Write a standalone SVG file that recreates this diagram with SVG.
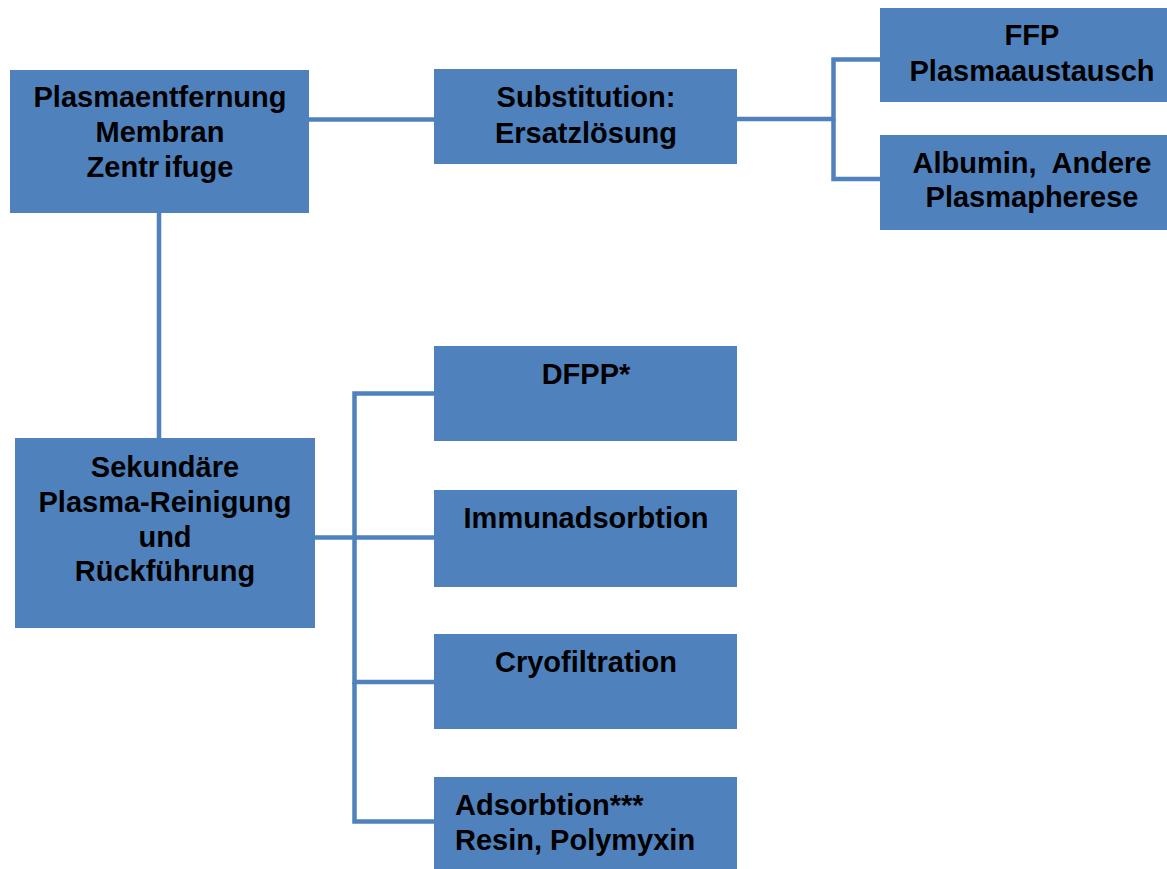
<svg xmlns="http://www.w3.org/2000/svg" width="1167" height="869" viewBox="0 0 1167 869">
  <style>
    .box { fill: #4F81BD; }
    .lbl { font-family: "Liberation Sans", Arial, sans-serif; font-weight: bold; font-size: 29px; fill: #000; text-anchor: middle; white-space: pre; }
    .left { text-anchor: start; }
    .conn { fill: none; stroke: #4F81BD; stroke-width: 4.5; stroke-linejoin: miter; }
  </style>
  <rect width="1167" height="869" fill="#FFFFFF"/>

  <!-- connectors -->
  <g id="connectors">
    <path class="conn" d="M309,119.5 H434"/>
    <path class="conn" d="M737,119 H833.5 V59.5 H880"/>
    <path class="conn" d="M833.5,119 V179 H880"/>
    <path class="conn" d="M159,213 V438"/>
    <path class="conn" d="M315,537.5 H354.5 V393.5 H434"/>
    <path class="conn" d="M354.5,537.5 H434"/>
    <path class="conn" d="M354.5,537.5 V682 H434"/>
    <path class="conn" d="M354.5,682 V821.5 H434"/>
  </g>

  <!-- primary separation -->
  <g id="plasmaentfernung">
    <rect class="box" x="10" y="70" width="299" height="143"/>
    <text class="lbl" x="160" y="107">Plasmaentfernung</text>
    <text class="lbl" x="160" y="142">Membran</text>
    <text class="lbl" x="160" y="177">Zentr<tspan dx="5">ifuge</tspan></text>
  </g>

  <g id="substitution">
    <rect class="box" x="434" y="69" width="303" height="95"/>
    <text class="lbl" x="586" y="107">Substitution:</text>
    <text class="lbl" x="586" y="143">Ersatzlösung</text>
  </g>

  <g id="ffp">
    <rect class="box" x="880" y="8" width="303" height="94"/>
    <text class="lbl" x="1032" y="45">FFP</text>
    <text class="lbl" x="1032" y="81">Plasmaaustausch</text>
  </g>

  <g id="albumin">
    <rect class="box" x="880" y="135" width="303" height="95"/>
    <text class="lbl" x="1032" y="173">Albumin,  Andere</text>
    <text class="lbl" x="1032" y="207">Plasmapherese</text>
  </g>

  <!-- secondary plasma treatment -->
  <g id="sekundaere">
    <rect class="box" x="15" y="438" width="300" height="190"/>
    <text class="lbl" x="165" y="477">Sekundäre</text>
    <text class="lbl" x="165" y="512">Plasma-Reinigung</text>
    <text class="lbl" x="165" y="547">und</text>
    <text class="lbl" x="165" y="581">Rückführung</text>
  </g>

  <g id="dfpp">
    <rect class="box" x="434" y="346" width="303" height="95"/>
    <text class="lbl" x="586" y="384">DFPP*</text>
  </g>

  <g id="immunadsorbtion">
    <rect class="box" x="434" y="490" width="303" height="97"/>
    <text class="lbl" x="586" y="528">Immunadsorbtion</text>
  </g>

  <g id="cryofiltration">
    <rect class="box" x="434" y="634" width="303" height="95"/>
    <text class="lbl" x="586" y="672">Cryofiltration</text>
  </g>

  <g id="adsorbtion">
    <rect class="box" x="434" y="777" width="303" height="95"/>
    <text class="lbl left" x="455" y="815">Adsorbtion***</text>
    <text class="lbl left" x="455" y="850">Resin, Polymyxin</text>
  </g>
</svg>
